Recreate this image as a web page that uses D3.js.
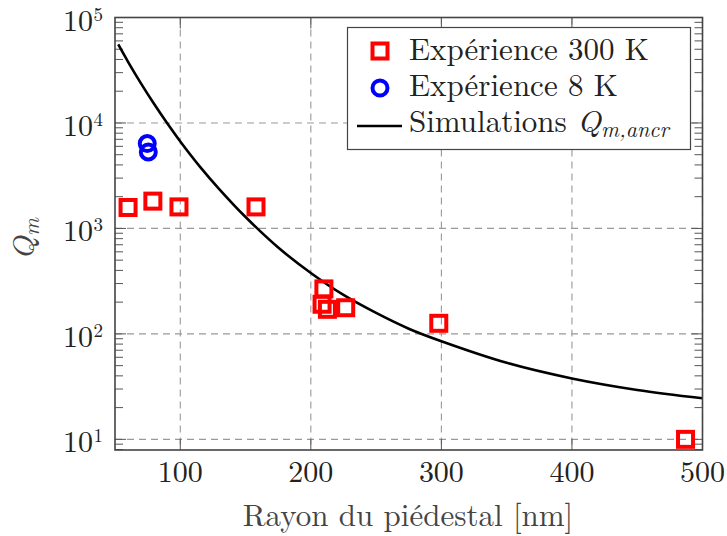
<!DOCTYPE html>
<html><head><meta charset="utf-8">
<script src="https://cdn.jsdelivr.net/npm/d3@7"></script>
<style>body{margin:0;background:#fff}svg{display:block}</style>
</head><body>
<svg id="c" width="727" height="536"></svg>
<script>
// Data
const exp300X = [60, 79, 99, 158, 210, 208.6, 212.7, 226.7, 298, 487];
const exp300Y = [1580, 1815, 1600, 1600, 267, 191, 171, 177, 126, 10];
const exp8X = [74.7, 75.5];
const exp8Y = [6380, 5310];
const simX = [52.5, 60, 70, 80, 90, 100, 115, 130, 150, 175, 200, 225, 250, 275, 300, 350, 400, 450, 500];
const simY = [55500, 38000, 23600, 15100, 9920, 6680, 3860, 2350, 1283, 659, 378, 234, 158, 112, 85.2, 53.2, 37.8, 29.4, 24.5];
const xTicks = [100, 200, 300, 400, 500];
const yTicks = [1, 2, 3, 4, 5]; // exponents
const legendLabels = ["Expérience 300 K", "Expérience 8 K", "Simulations "];

const FONT = '"Latin Modern Roman", "CMU Serif", "Liberation Serif", serif';
const svg = d3.select("#c");
const L = 115, R = 702.5, T = 17.5, B = 450;
const x = d3.scaleLinear().domain([50, 500]).range([L, R]);
const y = d3.scaleLog().domain([Math.pow(10, 0.899), 1e5]).range([B, T]);
const TXT = "#222";

function txt(sel) { return sel.style("font-family", FONT); }

// grid
const g = svg.append("g");
g.selectAll("line.gx").data(xTicks).join("line")
  .attr("x1", d => x(d)).attr("x2", d => x(d)).attr("y1", T).attr("y2", B)
  .attr("stroke", "#999").attr("stroke-width", 1.1).attr("stroke-dasharray", "7,5");
g.selectAll("line.gy").data(yTicks).join("line")
  .attr("y1", d => y(Math.pow(10, d))).attr("y2", d => y(Math.pow(10, d))).attr("x1", L).attr("x2", R)
  .attr("stroke", "#999").attr("stroke-width", 1.1).attr("stroke-dasharray", "7,5");

// minor ticks (left & right)
const minors = [];
for (let e = 0; e <= 4; e++) for (let m = 2; m <= 9; m++) {
  const v = m * Math.pow(10, e);
  if (v >= y.domain()[0] && v <= 1e5) minors.push(v);
}
const tk = svg.append("g").attr("stroke", "#555").attr("stroke-width", 1);
minors.forEach(v => {
  tk.append("line").attr("x1", L).attr("x2", L + 8).attr("y1", y(v)).attr("y2", y(v));
  tk.append("line").attr("x1", R).attr("x2", R - 8).attr("y1", y(v)).attr("y2", y(v));
});
yTicks.forEach(e => {
  const v = Math.pow(10, e);
  tk.append("line").attr("x1", L).attr("x2", L + 11).attr("y1", y(v)).attr("y2", y(v));
  tk.append("line").attr("x1", R).attr("x2", R - 11).attr("y1", y(v)).attr("y2", y(v));
});
xTicks.forEach(v => {
  tk.append("line").attr("x1", x(v)).attr("x2", x(v)).attr("y1", B).attr("y2", B - 11);
  tk.append("line").attr("x1", x(v)).attr("x2", x(v)).attr("y1", T).attr("y2", T + 11);
});

// simulation curve
const simData = simX.map((d, i) => [d, simY[i]]);
svg.append("path").datum(simData)
  .attr("d", d3.line().x(d => x(d[0])).y(d => y(d[1])).curve(d3.curveCatmullRom.alpha(0.5)))
  .attr("fill", "none").attr("stroke", "#000").attr("stroke-width", 2.6);

// markers
const s = 15, MW = 4;
svg.append("g").selectAll("rect").data(exp300X.map((d, i) => [d, exp300Y[i]])).join("rect")
  .attr("x", d => x(d[0]) - s / 2).attr("y", d => y(d[1]) - s / 2)
  .attr("width", s).attr("height", s)
  .attr("fill", "none").attr("stroke", "#f00").attr("stroke-width", MW);
svg.append("g").selectAll("circle").data(exp8X.map((d, i) => [d, exp8Y[i]])).join("circle")
  .attr("cx", d => x(d[0])).attr("cy", d => y(d[1])).attr("r", 7.5)
  .attr("fill", "none").attr("stroke", "#00f").attr("stroke-width", MW);

// frame
svg.append("rect").attr("x", L).attr("y", T).attr("width", R - L).attr("height", B - T)
  .attr("fill", "none").attr("stroke", "#444").attr("stroke-width", 1.6);

// x tick labels
txt(svg.append("g").selectAll("text").data(xTicks).join("text")
  .attr("x", d => x(d)).attr("y", 482).attr("text-anchor", "middle").attr("fill", TXT)
  .attr("font-size", 30).text(d => d));

// y tick labels
const yl = svg.append("g").attr("fill", TXT);
yTicks.forEach(e => {
  txt(yl.append("text").attr("x", 93).attr("y", y(Math.pow(10, e)) + 13)
    .attr("text-anchor", "end").attr("font-size", 30).text("10"));
  txt(yl.append("text").attr("x", 93.5).attr("y", y(Math.pow(10, e)) + 3).attr("font-size", 19).text(e));
});

// axis labels
txt(svg.append("text").attr("x", 408).attr("y", 526).attr("text-anchor", "middle")
  .attr("font-size", 31).attr("fill", "#444").text("Rayon du piédestal [nm]"));
const ql = txt(svg.append("text").attr("transform", "translate(34,239) rotate(-90)")
  .attr("text-anchor", "middle").attr("font-size", 31).attr("fill", "#444"));
ql.append("tspan").attr("font-style", "italic").text("Q");
ql.append("tspan").attr("font-style", "italic").attr("font-size", 22).attr("dy", 5).text("m");

// legend
const lg = svg.append("g");
lg.append("rect").attr("x", 347.5).attr("y", 27.5).attr("width", 343).attr("height", 122)
  .attr("fill", "#fff").attr("stroke", "#444").attr("stroke-width", 1.2);
lg.append("rect").attr("x", 380 - s / 2).attr("y", 51 - s / 2).attr("width", s).attr("height", s)
  .attr("fill", "none").attr("stroke", "#f00").attr("stroke-width", MW);
lg.append("circle").attr("cx", 380).attr("cy", 88).attr("r", 7.5)
  .attr("fill", "none").attr("stroke", "#00f").attr("stroke-width", MW);
lg.append("line").attr("x1", 357).attr("x2", 402).attr("y1", 126).attr("y2", 126)
  .attr("stroke", "#000").attr("stroke-width", 2.6);
const ly = [60, 96, 132];
legendLabels.forEach((t, i) => {
  const tx = txt(lg.append("text").attr("x", 409).attr("y", ly[i]).attr("font-size", 31).attr("fill", TXT).text(t));
  if (i === 2) {
    tx.append("tspan").attr("font-style", "italic").text("Q");
    tx.append("tspan").attr("font-style", "italic").attr("font-size", 22).attr("dy", 5).text("m,ancr");
  }
});
</script>
</body></html>
